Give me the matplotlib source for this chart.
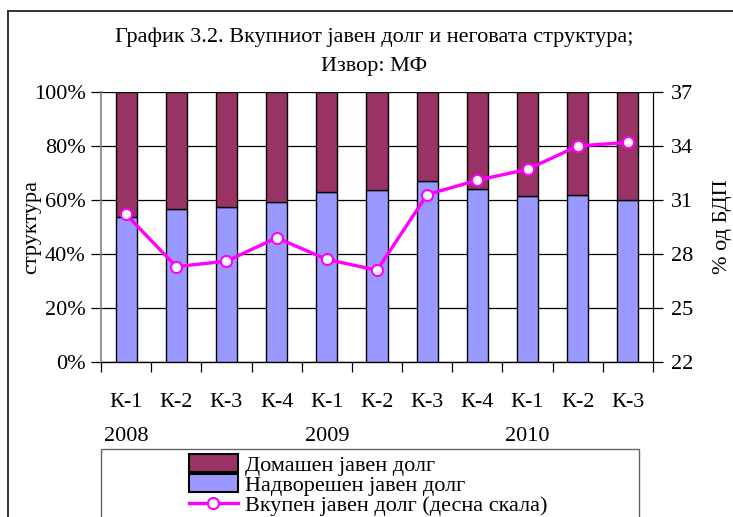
import numpy as np
import matplotlib
matplotlib.use("Agg")
import matplotlib.pyplot as plt
from matplotlib.patches import Rectangle, Patch
from matplotlib.lines import Line2D

quarters = ["К-1", "К-2", "К-3", "К-4", "К-1", "К-2", "К-3", "К-4", "К-1", "К-2", "К-3"]
years = ["2008", "2009", "2010"]
year_pos = [0, 4, 8]
external = [53.8, 56.5, 57.3, 59.3, 62.8, 63.6, 67.2, 64.2, 61.5, 62.0, 60.0]
domestic = [100 - v for v in external]
total = [30.2, 27.3, 27.6, 28.9, 27.7, 27.1, 31.3, 32.1, 32.7, 34.0, 34.2]

plt.rcParams['font.family'] = ['Liberation Serif', 'DejaVu Serif']
fs = 16

fig = plt.figure(figsize=(7.33, 5.17), dpi=100)
ax = fig.add_axes([101 / 733, 1 - 362 / 517, 552 / 733, 270 / 517])
x = np.arange(len(quarters))

ax.bar(x, external, width=0.42, color='#9999FF', edgecolor='black', linewidth=1, zorder=3)
ax.bar(x, domestic, bottom=external, width=0.42, color='#993366', edgecolor='black',
       linewidth=1, zorder=3)

ax.set_xlim(-0.5, len(quarters) - 0.5)
ax.set_ylim(0, 100)
ax.set_yticks(np.arange(0, 101, 20))
ax.set_yticklabels([f"{v}%" for v in range(0, 101, 20)], fontsize=fs)
ax.yaxis.grid(True, color='black', linewidth=0.9, zorder=0)
ax.set_axisbelow(True)
ax.set_xticks(x)
ax.set_xticklabels(quarters, fontsize=fs)
ax.set_xticks(np.arange(-0.5, len(quarters), 1), minor=True)
ax.tick_params(axis='x', which='major', length=0, pad=22)
ax.tick_params(axis='x', which='minor', length=7, width=0.9, direction='out')
ax.tick_params(axis='y', length=7, width=0.9, direction='out', pad=4)
ax.spines['top'].set_visible(False)
ax.spines['left'].set_color('#808080')
ax.spines['left'].set_linewidth(1.2)
ax.spines['bottom'].set_linewidth(0.9)
ax.set_ylabel("структура", fontsize=fs, labelpad=-5)

for yr, p in zip(years, year_pos):
    ax.text(p, -27.5, yr, ha='center', va='center', fontsize=fs)

ax2 = ax.twinx()
ax2.plot(x, total, color='#FF00FF', linewidth=2.4, marker='o', markersize=8,
         markerfacecolor='white', markeredgecolor='#FF00FF', markeredgewidth=1.5, zorder=5)
ax2.set_ylim(22, 37)
ax2.set_yticks(np.arange(22, 38, 3))
ax2.tick_params(axis='y', length=7, width=0.9, direction='out', labelsize=fs, pad=6)
ax2.spines['top'].set_visible(False)
ax2.spines['left'].set_visible(False)
ax2.set_ylabel("% од БДП", fontsize=fs, labelpad=14)

fig.text(374 / 733, 1 - 37 / 517, "График 3.2. Вкупниот јавен долг и неговата структура;",
         ha='center', va='center', fontsize=fs)
fig.text(374 / 733, 1 - 66 / 517, "Извор: МФ", ha='center', va='center', fontsize=fs)

# outer frame (left and top edges visible)
fig.add_artist(Line2D([8 / 733, 8 / 733], [0, 1 - 11 / 517], color='#333333', linewidth=1.4,
                      transform=fig.transFigure))
fig.add_artist(Line2D([8 / 733, 1], [1 - 11 / 517, 1 - 11 / 517], color='#333333', linewidth=1.4,
                      transform=fig.transFigure))

# legend box
fig.add_artist(Rectangle((101 / 733, -0.05), 538 / 733, 1 - 449 / 517 + 0.05,
                         transform=fig.transFigure, fill=False, edgecolor='#666666', linewidth=1))
handles = [Patch(facecolor='#993366', edgecolor='black', linewidth=1.5),
           Patch(facecolor='#9999FF', edgecolor='black', linewidth=1.5),
           Line2D([], [], color='#FF00FF', linewidth=2.4, marker='o', markersize=8,
                  markerfacecolor='white', markeredgecolor='#FF00FF', markeredgewidth=1.5)]
labels = ["Домашен јавен долг", "Надворешен јавен долг", "Вкупен јавен долг (десна скала)"]
fig.legend(handles, labels, loc='upper left', bbox_to_anchor=(189 / 733, 1 - 454 / 517),
           frameon=False, fontsize=fs, handlelength=2.2, handleheight=0.85, handletextpad=0.3,
           labelspacing=-0.05, borderpad=0, borderaxespad=0)

fig.savefig("out.png", dpi=100)
